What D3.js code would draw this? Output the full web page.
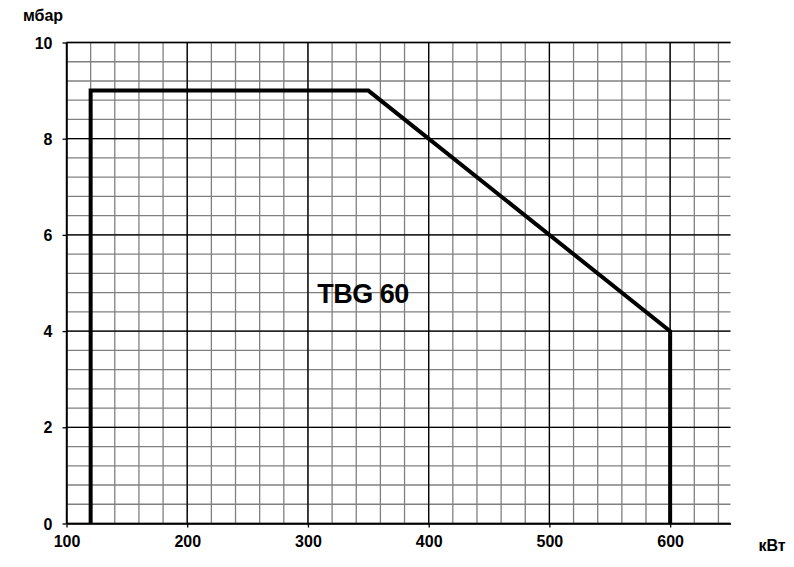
<!DOCTYPE html>
<html><head><meta charset="utf-8">
<script src="https://cdn.jsdelivr.net/npm/d3@7"></script>
<style>body{margin:0;background:#fff}svg{display:block}text{font-family:"Liberation Sans",Arial,sans-serif;font-weight:bold}</style>
</head><body>
<script>
const xTicks = [100, 200, 300, 400, 500, 600];
const yTicks = [0, 2, 4, 6, 8, 10];
const curveX = [120, 120, 350, 600, 600];
const curveY = [0, 9, 9, 4, 0];
const title = "TBG 60";
const xUnit = "кВт", yUnit = "мбар";

const W = 794, H = 567;
const svg = d3.select("body").append("svg").attr("width", W).attr("height", H);
const x = d3.scaleLinear().domain([100, 650]).range([66.5, 730.5]);
const y = d3.scaleLinear().domain([0, 10]).range([523.5, 42.5]);

const minorX = d3.range(100, 650, 20);
const minorY = d3.range(0, 10.001, 0.4);
const g = svg.append("g");
g.selectAll(".mx").data(minorX).join("line")
  .attr("x1", d => x(d)).attr("x2", d => x(d)).attr("y1", y(0)).attr("y2", y(10))
  .attr("stroke", "#808080").attr("stroke-width", 1.3);
g.selectAll(".my").data(minorY).join("line")
  .attr("x1", x(100)).attr("x2", x(650)).attr("y1", d => y(d)).attr("y2", d => y(d))
  .attr("stroke", "#808080").attr("stroke-width", 1.3);
g.selectAll(".Mx").data(xTicks).join("line")
  .attr("x1", d => x(d)).attr("x2", d => x(d)).attr("y1", y(0)).attr("y2", y(10))
  .attr("stroke", "#000").attr("stroke-width", 1.3);
g.selectAll(".My").data(yTicks).join("line")
  .attr("x1", x(100)).attr("x2", x(650)).attr("y1", d => y(d)).attr("y2", d => y(d))
  .attr("stroke", "#000").attr("stroke-width", 1.3);

const xa = svg.append("g").attr("transform", `translate(0,${y(0)})`)
  .call(d3.axisBottom(x).tickValues(xTicks).tickSize(4).tickPadding(8).tickSizeOuter(0));
const ya = svg.append("g").attr("transform", `translate(${x(100)},0)`)
  .call(d3.axisLeft(y).tickValues(yTicks).tickSize(4).tickPadding(10).tickSizeOuter(0));
[xa, ya].forEach(a => {
  a.select(".domain").attr("stroke", "#000").attr("stroke-width", 1.5);
  a.selectAll(".tick line").attr("stroke", "#000").attr("stroke-width", 1.3);
  a.selectAll("text").attr("font-size", 16).attr("fill", "#000")
    .attr("font-family", '"Liberation Sans",Arial,sans-serif').attr("font-weight", "bold");
});
ya.selectAll("text").attr("dy", "0.35em");

const line = d3.line().x(d => x(d[0])).y(d => y(d[1]));
svg.append("path").datum(curveX.map((v, i) => [v, curveY[i]]))
  .attr("d", line).attr("fill", "none").attr("stroke", "#000").attr("stroke-width", 4)
  .attr("stroke-linejoin", "miter");

svg.append("text").attr("x", 363).attr("y", 303).attr("text-anchor", "middle")
  .attr("font-size", 27).attr("letter-spacing", -0.5).text(title);
svg.append("text").attr("x", 43).attr("y", 21).attr("text-anchor", "middle")
  .attr("font-size", 16).text(yUnit);
svg.append("text").attr("x", 772).attr("y", 551).attr("text-anchor", "middle")
  .attr("font-size", 16).text(xUnit);
</script>
</body></html>
